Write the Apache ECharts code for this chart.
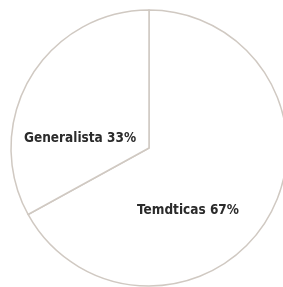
<!DOCTYPE html>
<html>
<head>
<meta charset="utf-8">
<script src="https://cdn.jsdelivr.net/npm/echarts@6/dist/echarts.min.js"></script>
<style>
  html, body { margin: 0; padding: 0; background: #fff; }
  #main { width: 283px; height: 287px; }
</style>
</head>
<body>
<div id="main"></div>
<script>
// datos del gráfico
var categories = ['Temdticas', 'Generalista'];
var values = [67, 33];
var labelOffsets = [[-23, 26], [-7, 27]];

var chart = echarts.init(document.getElementById('main'));

chart.setOption({
  animation: false,
  series: [{
    type: 'pie',
    center: [149, 148],
    radius: 138,
    startAngle: 90,
    clockwise: true,
    silent: true,
    itemStyle: {
      color: '#ffffff',
      borderColor: '#d0c9c2',
      borderWidth: 1.5
    },
    label: {
      position: 'inside',
      color: '#2b2b2b',
      fontFamily: 'DejaVu Sans Condensed',
      fontWeight: 'bold',
      fontSize: 13.5,
      formatter: function (p) { return p.name + ' ' + p.value + '%'; }
    },
    labelLine: { show: false },
    data: categories.map(function (c, i) {
      return { name: c, value: values[i], label: { offset: labelOffsets[i] } };
    })
  }]
});
</script>
</body>
</html>
